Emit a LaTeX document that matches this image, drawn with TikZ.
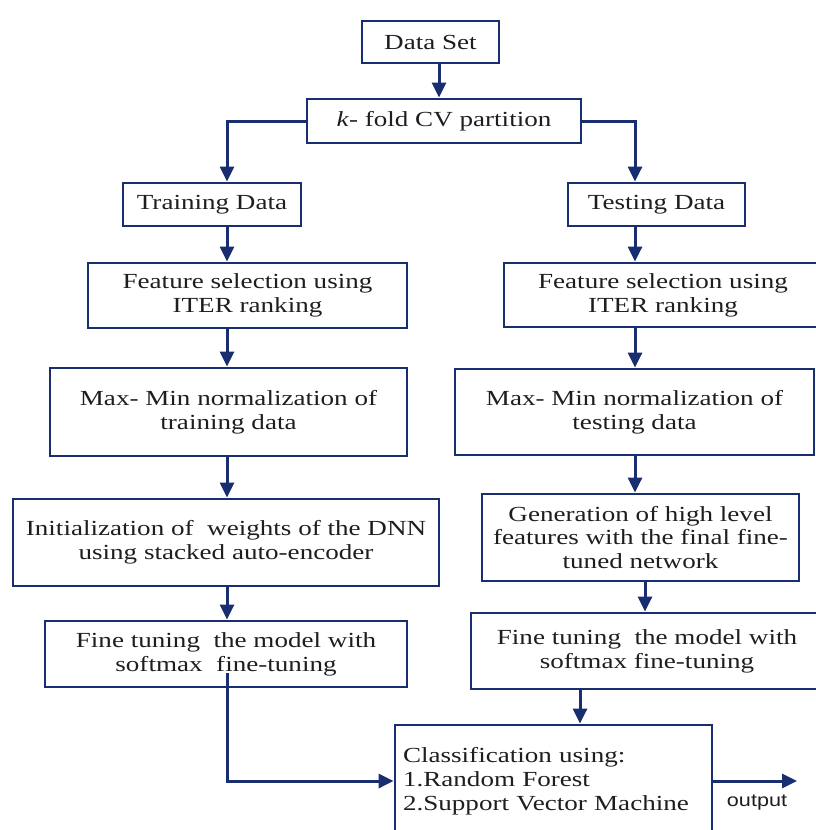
\documentclass[tikz,border=0pt]{standalone}
\usepackage{fontspec}
\setmainfont{Liberation Serif}[FakeStretch=1.26]
\newfontfamily\outfont{Liberation Sans}[FakeStretch=1.2]
\usetikzlibrary{arrows.meta,calc}
\definecolor{navy}{RGB}{24,46,112}
\definecolor{txt}{RGB}{30,30,30}
\begin{document}
\begin{tikzpicture}[x=1pt,y=-1pt,
  box/.style={draw=navy, line width=2.8pt, text=txt, align=center, inner sep=0pt,
    font=\fontsize{21.5}{24}\selectfont},
  conn/.style={draw=navy, line width=3pt},
  arr/.style={conn, -{Triangle[length=15pt,width=14pt]}}]
\useasboundingbox (0,0) rectangle (816,830);
\clip (0,0) rectangle (816,830);
% column coordinates
\coordinate (C) at (439,0);
\coordinate (L) at (227,0);
\coordinate (R) at (635,0);
\coordinate (R2) at (645,0);
\coordinate (R3) at (580,0);
% nodes
\node[box, minimum width=137, minimum height=42] (ds) at (430.5,42) {Data Set};
\node[box, minimum width=274, minimum height=44] (kf) at (444,121) {\textit{k}- fold CV partition};
\node[box, minimum width=178, minimum height=43] (trd) at (212,204.5) {Training Data};
\node[box, minimum width=177, minimum height=43] (ted) at (656.5,204.5) {Testing Data};
\node[box, minimum width=319, minimum height=65] (fsl) at (247.5,295.5) {Feature selection using\\ITER ranking};
\node[box, minimum width=318, minimum height=64] (fsr) at (663,295) {Feature selection using\\ITER ranking};
\node[box, minimum width=357, minimum height=88] (mml) at (228.5,412) {Max- Min normalization of\\training data};
\node[box, minimum width=359, minimum height=86] (mmr) at (634.5,412) {Max- Min normalization of\\testing data};
\node[box, minimum width=426, minimum height=87] (inl) at (226,542.5) {Initialization of\ \ weights of the DNN\\using stacked auto-encoder};
\node[box, minimum width=317, minimum height=87, font=\fontsize{21.5}{23.5}\selectfont] (gen) at (640.5,537.5) {Generation of high level\\features with the final fine-\\tuned network};
\node[box, minimum width=362, minimum height=66] (ftl) at (226,654) {Fine tuning\ \ the model with\\softmax\ \ fine-tuning};
\node[box, minimum width=352, minimum height=76] (ftr) at (647,651) {Fine tuning\ \ the model with\\softmax fine-tuning};
\node[box, minimum width=317, minimum height=112, align=left, text width=301] (cls) at (553.5,781) {Classification using:\\1.Random Forest\\2.Support Vector Machine};
\node[text=txt, font=\outfont\fontsize{18}{20}\selectfont, inner sep=0pt] (out) at (757,803) {output};
\coordinate (oend) at (797,781);
% connectors
\draw[arr] (ds.south -| C) -- (kf.north -| C);
\draw[arr] (kf.west) -| (trd.north -| L);
\draw[arr] (kf.east) -| (ted.north -| R);
\draw[arr] (trd.south -| L) -- (fsl.north -| L);
\draw[arr] (fsl.south -| L) -- (mml.north -| L);
\draw[arr] (mml.south -| L) -- (inl.north -| L);
\draw[arr] (inl.south -| L) -- (ftl.north -| L);
\draw[arr] ($(ftl.south -| L)+(0,-15)$) |- (cls.west);
\draw[arr] (ted.south -| R) -- (fsr.north -| R);
\draw[arr] (fsr.south -| R) -- (mmr.north -| R);
\draw[arr] (mmr.south -| R) -- (gen.north -| R);
\draw[arr] (gen.south -| R2) -- (ftr.north -| R2);
\draw[arr] (ftr.south -| R3) -- (cls.north -| R3);
\draw[arr] (cls.east) -- (oend);
\end{tikzpicture}
\end{document}
